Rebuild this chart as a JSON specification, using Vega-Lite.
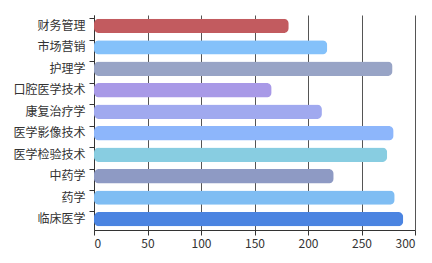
{
  "$schema": "https://vega.github.io/schema/vega-lite/v6.json",
  "autosize": "none",
  "width": 321,
  "height": 215,
  "padding": {"left": 94, "top": 15, "right": 17, "bottom": 33},
  "background": "white",
  "data": {
    "values": [
      {"major": "财务管理", "value": 182, "color": "#c25b5f"},
      {"major": "市场营销", "value": 218, "color": "#84c1fa"},
      {"major": "护理学", "value": 279, "color": "#98a4c6"},
      {"major": "口腔医学技术", "value": 166, "color": "#a899e7"},
      {"major": "康复治疗学", "value": 213, "color": "#a0a9ef"},
      {"major": "医学影像技术", "value": 280, "color": "#8db6fb"},
      {"major": "医学检验技术", "value": 274, "color": "#88cde1"},
      {"major": "中药学", "value": 224, "color": "#8e9ac4"},
      {"major": "药学", "value": 281, "color": "#7fbdf3"},
      {"major": "临床医学", "value": 289, "color": "#4b84e1"}
    ]
  },
  "config": {
    "view": {"stroke": null},
    "font": "Noto Sans CJK SC"
  },
  "mark": {"type": "bar", "cornerRadius": 5},
  "encoding": {
    "y": {
      "field": "major",
      "type": "nominal",
      "sort": null,
      "scale": {"paddingInner": 0.33, "paddingOuter": 0.17},
      "axis": {
        "title": null,
        "domainColor": "#333",
        "tickColor": "#333",
        "tickSize": 5,
        "bandPosition": 0,
        "grid": false,
        "labelColor": "#333",
        "labelFontSize": 12,
        "labelPadding": 4,
        "labelFont": "Noto Sans CJK SC"
      }
    },
    "x": {
      "field": "value",
      "type": "quantitative",
      "scale": {"domain": [0, 300], "nice": false},
      "axis": {
        "title": null,
        "values": [0, 50, 100, 150, 200, 250, 300],
        "domainColor": "#333",
        "tickColor": "#333",
        "tickSize": 5,
        "grid": true,
        "gridColor": "#555",
        "gridOpacity": 1,
        "labelColor": "#333",
        "labelFontSize": 12,
        "labelPadding": 3,
        "labelFont": "Noto Sans CJK SC"
      }
    },
    "color": {"field": "color", "type": "nominal", "scale": null}
  }
}
